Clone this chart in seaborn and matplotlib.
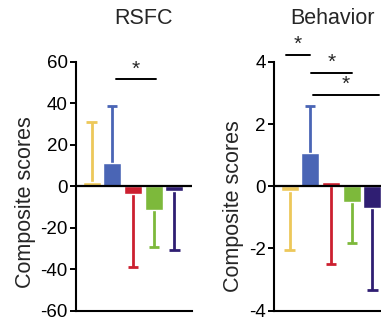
import matplotlib
matplotlib.use("Agg")
import matplotlib.pyplot as plt
import seaborn as sns
import pandas as pd

# groups (colour order as in the figure)
groups = ["G1", "G2", "G3", "G4", "G5"]
colors = ["#EDC85A", "#4A65B5", "#CC2030", "#7DB93B", "#2F1E72"]

# RSFC composite scores: bar mean and the end of the (one-sided) error bar
rsfc_mean = [2.1, 11.1, -3.7, -11.7, -2.2]
rsfc_err_end = [31.1, 38.8, -38.8, -29.3, -30.6]

# Behavior composite scores
beh_mean = [-0.14, 1.08, 0.15, -0.52, -0.69]
beh_err_end = [-2.04, 2.57, -2.51, -1.82, -3.33]

# significance brackets: (x from, x to, height)
rsfc_sig = [(1.19, 3.12, 51.7)]
beh_sig = [(-0.19, 0.98, 4.23), (1.04, 3.0, 3.65), (1.14, 4.3, 2.95)]

sns.set_style("ticks")
plt.rcParams["font.family"] = ["Liberation Sans", "DejaVu Sans"]
plt.rcParams["axes.unicode_minus"] = False


def draw_panel(ax, means, err_end, sigs, ylim, yticks, star_off):
    df = pd.DataFrame({"group": groups, "score": means})
    sns.barplot(data=df, x="group", y="score", hue="group", palette=colors,
                width=0.87, saturation=1, legend=False, ax=ax, zorder=3)
    # one-sided error bars: stem from 0 to the end, cap only at the end
    start = [0 if (e < 0 < m or m < 0 < e) else m for m, e in zip(means, err_end)]
    xs = range(len(means))
    ax.vlines(xs, start, err_end, colors=colors, lw=2, zorder=2)
    ax.hlines(err_end, [x - 0.25 for x in xs], [x + 0.25 for x in xs],
              colors=colors, lw=2, zorder=2)
    ax.axhline(0, color="black", lw=1.6, zorder=4)
    for x0, x1, h in sigs:
        ax.plot([x0, x1], [h, h], color="black", lw=1.4, clip_on=False)
        ax.text((x0 + x1) / 2, h + star_off, "*", ha="center", va="center",
                fontsize=15, clip_on=False)
    ax.set_xlim(-0.75, 4.85)
    ax.set_ylim(*ylim)
    ax.set_yticks(yticks)
    ax.set_xticks([])
    ax.set_xlabel("")
    ax.set_ylabel("Composite scores", fontsize=15.5, va="center")
    ax.tick_params(axis="y", labelsize=13.5, length=4, width=1.4, pad=2,
                   colors="black")
    for s in ["left", "bottom"]:
        ax.spines[s].set_linewidth(1.5)
        ax.spines[s].set_color("black")
    sns.despine(ax=ax)


fig = plt.figure(figsize=(3.81, 3.2), dpi=100)
ax1 = fig.add_axes([76 / 381, 9.5 / 320, 116 / 381, 248.5 / 320])
ax2 = fig.add_axes([274 / 381, 9.5 / 320, 116 / 381, 248.5 / 320])

draw_panel(ax1, rsfc_mean, rsfc_err_end, rsfc_sig, (-60, 60),
           [-60, -40, -20, 0, 20, 40, 60], 5)
draw_panel(ax2, beh_mean, beh_err_end, beh_sig, (-4, 4),
           [-4, -2, 0, 2, 4], 0.33)

ax1.yaxis.set_label_coords((26 - 76) / 116, 0.436)
ax2.yaxis.set_label_coords((233 - 274) / 116, 0.42)

fig.text(143 / 381, 1 - 18 / 320, "RSFC", ha="center", va="center",
         fontsize=15.5)
fig.text(333 / 381, 1 - 18 / 320, "Behavior", ha="center", va="center",
         fontsize=15.5)

fig.savefig("out.png", dpi=100)
